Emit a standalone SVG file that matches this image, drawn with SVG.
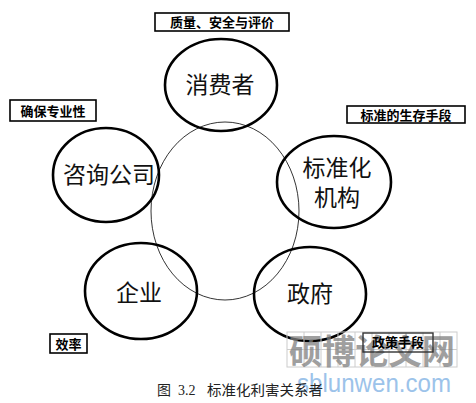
<svg xmlns="http://www.w3.org/2000/svg" width="476" height="403" viewBox="0 0 476 403">
<style>
.node{fill:none;stroke:#000;stroke-width:2.6}
.nt{font-family:"Noto Sans CJK SC","Noto Sans CJK JP",sans-serif;font-size:23px;fill:#111;text-anchor:middle}
.box{fill:#fff;stroke:#000;stroke-width:1.6}
.bt{font-family:"Noto Sans CJK SC",sans-serif;font-size:13px;font-weight:bold;fill:#000;text-anchor:middle}
.wm{font-family:"Noto Sans CJK SC",sans-serif;font-size:34px;font-weight:bold;fill:#808080;opacity:0.75;text-anchor:middle}
.cap{font-family:"Liberation Serif","Noto Sans CJK SC",serif;font-size:14px;fill:#222}
</style>
<rect width="476" height="403" fill="#fff"/>
<g id="connectors">
<ellipse cx="225" cy="211" rx="74" ry="89" fill="none" stroke="#000" stroke-width="0.8"/>
</g>
<g id="consumer"><ellipse class="node" cx="221" cy="85" rx="56" ry="46"/><text class="nt" x="220" y="93">消费者</text></g>
<g id="consulting"><ellipse class="node" cx="106" cy="175" rx="53" ry="47"/><text class="nt" x="109" y="183">咨询公司</text></g>
<g id="standards"><ellipse class="node" cx="334" cy="182" rx="57" ry="46"/><text class="nt" x="337" y="176">标准化</text><text class="nt" x="337" y="206">机构</text></g>
<g id="enterprise"><ellipse class="node" cx="141" cy="291" rx="56" ry="48"/><text class="nt" x="139" y="301">企业</text></g>
<g id="government"><ellipse class="node" cx="310" cy="294" rx="56" ry="47"/><text class="nt" x="310" y="302">政府</text></g>
<g id="label-quality"><rect class="box" x="155" y="13" width="134" height="18"/><text class="bt" x="222" y="27">质量、安全与评价</text></g>
<g id="label-prof"><rect class="box" x="10" y="100" width="86" height="21"/><text class="bt" x="53" y="116" font-size="15">确保专业性</text></g>
<g id="label-survival"><rect class="box" x="347" y="106" width="118" height="17"/><text class="bt" x="406" y="120" font-size="14">标准的生存手段</text></g>
<g id="label-eff"><rect class="box" x="50" y="334" width="37" height="19"/><text class="bt" x="68.5" y="349" font-size="15">效率</text></g>
<g id="watermark">
<g stroke="#ccc" stroke-width="1" fill="none">
<rect x="287" y="332" width="170" height="35"/>
<path d="M321 332V367M355 332V367M389 332V367M423 332V367M287 349.5H457M304 332V367M338 332V367M372 332V367M406 332V367M440 332V367"/>
</g>
<text class="wm" x="372" y="364" textLength="166" lengthAdjust="spacingAndGlyphs">硕博论文网</text>
<text x="374" y="392" font-family="Liberation Sans,Arial,sans-serif" font-size="25" fill="#9cc3ea" text-anchor="middle" textLength="154" lengthAdjust="spacingAndGlyphs">sblunwen.com</text>
</g>
<g id="label-policy"><rect x="363" y="333" width="70" height="19" fill="none" stroke="#333" stroke-width="1.4"/><text class="bt" x="398" y="347" font-weight="normal" font-size="14">政策手段</text></g>
<g id="caption"><text class="cap" x="157" y="395">图</text><text class="cap" x="178" y="395">3.2</text><text class="cap" x="207" y="395" textLength="116" lengthAdjust="spacingAndGlyphs">标准化利害关系者</text></g>
</svg>
